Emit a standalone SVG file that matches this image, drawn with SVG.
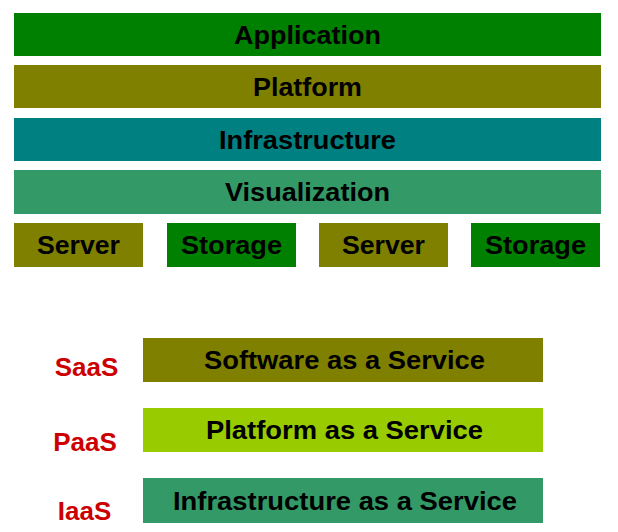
<svg xmlns="http://www.w3.org/2000/svg" width="618" height="532" viewBox="0 0 618 532">
<style>
text{font-family:"Liberation Sans",Arial,sans-serif;font-weight:bold;font-size:26px;text-anchor:middle;fill:#000}
.lbl{fill:#cc0000}
.green{fill:#008000}.olive{fill:#808000}.teal{fill:#008080}.sea{fill:#339966}.lime{fill:#99cc00}
</style>
<rect width="618" height="532" fill="#fff"/>
<g id="application"><rect class="green" x="14" y="13" width="587" height="43"/><text x="307.5" y="43.5" textLength="147" lengthAdjust="spacingAndGlyphs">Application</text></g>
<g id="platform"><rect class="olive" x="14" y="65" width="587" height="43"/><text x="307.5" y="96" textLength="109" lengthAdjust="spacingAndGlyphs">Platform</text></g>
<g id="infrastructure"><rect class="teal" x="14" y="118" width="587" height="43"/><text x="307.5" y="149" textLength="177" lengthAdjust="spacingAndGlyphs">Infrastructure</text></g>
<g id="visualization"><rect class="sea" x="14" y="170" width="587" height="44"/><text x="307.5" y="201" textLength="165" lengthAdjust="spacingAndGlyphs">Visualization</text></g>
<g id="server1"><rect class="olive" x="14" y="223" width="129" height="44"/><text x="78.5" y="254" textLength="83" lengthAdjust="spacingAndGlyphs">Server</text></g>
<g id="storage1"><rect class="green" x="167" y="223" width="129" height="44"/><text x="231.5" y="254" textLength="101" lengthAdjust="spacingAndGlyphs">Storage</text></g>
<g id="server2"><rect class="olive" x="319" y="223" width="129" height="44"/><text x="383.5" y="254" textLength="83" lengthAdjust="spacingAndGlyphs">Server</text></g>
<g id="storage2"><rect class="green" x="471" y="223" width="129" height="44"/><text x="535.5" y="254" textLength="101" lengthAdjust="spacingAndGlyphs">Storage</text></g>
<g id="saas"><text class="lbl" x="86.5" y="376">SaaS</text><rect class="olive" x="143" y="338" width="400" height="44"/><text x="344.5" y="369" textLength="281" lengthAdjust="spacingAndGlyphs">Software as a Service</text></g>
<g id="paas"><text class="lbl" x="85" y="451">PaaS</text><rect class="lime" x="143" y="408" width="400" height="44"/><text x="344.5" y="439" textLength="277" lengthAdjust="spacingAndGlyphs">Platform as a Service</text></g>
<g id="iaas"><text class="lbl" x="84.5" y="520">IaaS</text><rect class="sea" x="143" y="478" width="400" height="45"/><text x="345" y="509.5" textLength="344" lengthAdjust="spacingAndGlyphs">Infrastructure as a Service</text></g>
<g id="connectors"></g>
</svg>
